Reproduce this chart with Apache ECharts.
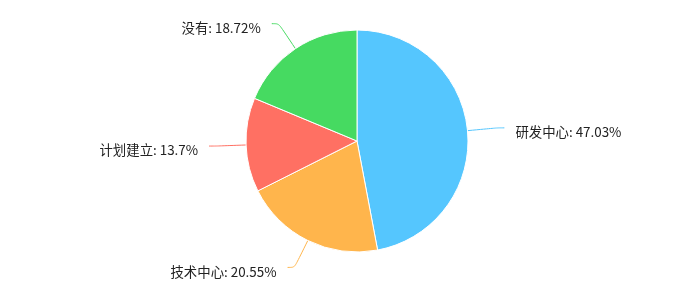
<!DOCTYPE html>
<html lang="zh">
<head>
    <meta charset="UTF-8">
    <title>Pie</title>
    <script src="https://cdn.jsdelivr.net/npm/echarts@6/dist/echarts.min.js"></script>
    <style>
        html, body { margin: 0; padding: 0; background: #fff; }
    </style>
</head>
<body>
    <div id="pie" style="width: 683px;height:296px;"></div>
    <script type="text/javascript">
        var names = ['研发中心', '技术中心', '计划建立', '没有'];
        var values = [47.03, 20.55, 13.7, 18.72];
        var colors = ['#55c6fe', '#ffb54c', '#ff7063', '#46da61'];

        var pieData = [];
        for (var i = 0; i < names.length; i++) {
            pieData.push({ name: names[i], value: values[i] });
        }

        var pieChart = echarts.init(document.getElementById('pie'));
        pieChart.setOption({
            color: colors,
            animation: false,
            series: [{
                type: 'pie',
                center: [357, 141],
                radius: 111,
                startAngle: 90,
                data: pieData,
                itemStyle: {
                    borderColor: '#fff',
                    borderWidth: 1
                },
                label: {
                    // rich text so the padding actually pushes the text down
                    formatter: '{t|{b}: {c}%}',
                    distanceToLabelLine: 11,
                    rich: {
                        t: {
                            color: '#222',
                            fontSize: 13.4,
                            fontFamily: '"Noto Sans CJK SC", sans-serif',
                            padding: [8, 0, 0, 0]
                        }
                    }
                },
                labelLine: {
                    length: 30,
                    length2: 7,
                    smooth: true
                }
            }]
        });
    </script>
</body>
</html>
